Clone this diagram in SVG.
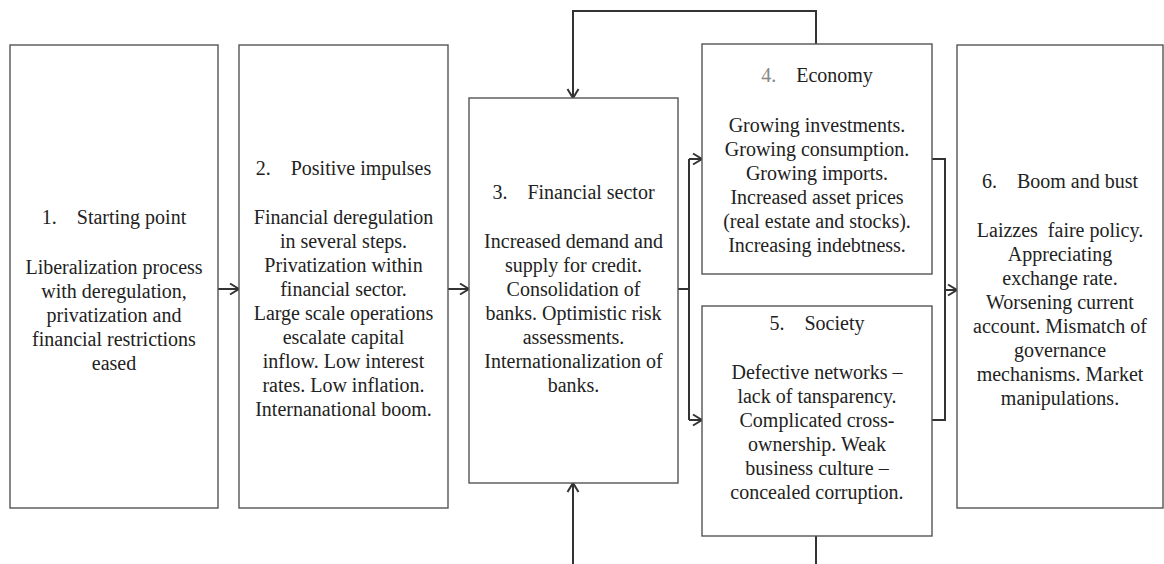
<svg xmlns="http://www.w3.org/2000/svg" width="1164" height="564" viewBox="0 0 1164 564">
<style>
.box{fill:#fff;stroke:#555;stroke-width:1.4}
.t{font-family:'Liberation Serif',Tinos,'Times New Roman',Times,'DejaVu Serif',serif;font-size:20px;fill:#222;text-anchor:middle}
.num4{fill:#888}
.c{fill:none;stroke:#333;stroke-width:2}
</style>
<defs>
<marker id="ah" markerUnits="userSpaceOnUse" markerWidth="14" markerHeight="14" viewBox="0 0 14 14" refX="12" refY="7" orient="auto">
<path d="M3,1.5 L12,7 L3,12.5" fill="none" stroke="#333" stroke-width="2"/>
</marker>
</defs>
<rect width="1164" height="564" fill="#fff"/>
<g id="connectors">
<line class="c" x1="218" y1="289" x2="239" y2="289" marker-end="url(#ah)"/>
<line class="c" x1="448" y1="289" x2="469" y2="289" marker-end="url(#ah)"/>
<polyline class="c" points="678,289 689,289"/>
<polyline class="c" points="689,159 689,420"/>
<line class="c" x1="689" y1="159" x2="702" y2="159" marker-end="url(#ah)"/>
<line class="c" x1="689" y1="420" x2="702" y2="420" marker-end="url(#ah)"/>
<polyline class="c" points="932,159 945,159 945,420 932,420"/>
<line class="c" x1="945" y1="290" x2="957" y2="290" marker-end="url(#ah)"/>
<polyline class="c" points="816,44 816,11 573,11 573,98" marker-end="url(#ah)"/>
<line class="c" x1="816" y1="536" x2="816" y2="566"/>
<line class="c" x1="573" y1="566" x2="573" y2="483" marker-end="url(#ah)"/>
</g>
<g id="node1">
<rect class="box" x="10" y="45" width="208" height="463"/>
<text class="t" x="114" y="224">1.<tspan dx="20">Starting point</tspan></text>
<text class="t" x="114" y="274">Liberalization process</text>
<text class="t" x="114" y="298">with deregulation,</text>
<text class="t" x="114" y="322">privatization and</text>
<text class="t" x="114" y="346">financial restrictions</text>
<text class="t" x="114" y="370">eased</text>
</g>
<g id="node2">
<rect class="box" x="239" y="45" width="209" height="463"/>
<text class="t" x="343.5" y="175">2.<tspan dx="20">Positive impulses</tspan></text>
<text class="t" x="343.5" y="224">Financial deregulation</text>
<text class="t" x="343.5" y="248">in several steps.</text>
<text class="t" x="343.5" y="272">Privatization within</text>
<text class="t" x="343.5" y="296">financial sector.</text>
<text class="t" x="343.5" y="320">Large scale operations</text>
<text class="t" x="343.5" y="344">escalate capital</text>
<text class="t" x="343.5" y="368">inflow. Low interest</text>
<text class="t" x="343.5" y="392">rates. Low inflation.</text>
<text class="t" x="343.5" y="416">Internanational boom.</text>
</g>
<g id="node3">
<rect class="box" x="469" y="98" width="209" height="385"/>
<text class="t" x="573.5" y="199">3.<tspan dx="20">Financial sector</tspan></text>
<text class="t" x="573.5" y="248">Increased demand and</text>
<text class="t" x="573.5" y="272">supply for credit.</text>
<text class="t" x="573.5" y="296">Consolidation of</text>
<text class="t" x="573.5" y="320">banks. Optimistic risk</text>
<text class="t" x="573.5" y="344">assessments.</text>
<text class="t" x="573.5" y="368">Internationalization of</text>
<text class="t" x="573.5" y="392">banks.</text>
</g>
<g id="node4">
<rect class="box" x="702" y="44" width="230" height="230"/>
<text class="t" x="817" y="82"><tspan class="num4">4.</tspan><tspan dx="20">Economy</tspan></text>
<text class="t" x="817" y="132">Growing investments.</text>
<text class="t" x="817" y="156">Growing consumption.</text>
<text class="t" x="817" y="180">Growing imports.</text>
<text class="t" x="817" y="204">Increased asset prices</text>
<text class="t" x="817" y="228">(real estate and stocks).</text>
<text class="t" x="817" y="252">Increasing indebtness.</text>
</g>
<g id="node5">
<rect class="box" x="702" y="306" width="230" height="230"/>
<text class="t" x="817" y="330">5.<tspan dx="20">Society</tspan></text>
<text class="t" x="817" y="379">Defective networks –</text>
<text class="t" x="817" y="403">lack of tansparency.</text>
<text class="t" x="817" y="427">Complicated cross-</text>
<text class="t" x="817" y="451">ownership. Weak</text>
<text class="t" x="817" y="475">business culture –</text>
<text class="t" x="817" y="499">concealed corruption.</text>
</g>
<g id="node6">
<rect class="box" x="957" y="45" width="206" height="463"/>
<text class="t" x="1060" y="188">6.<tspan dx="20">Boom and bust</tspan></text>
<text class="t" x="1060" y="237" xml:space="preserve">Laizzes  faire policy.</text>
<text class="t" x="1060" y="261">Appreciating</text>
<text class="t" x="1060" y="285">exchange rate.</text>
<text class="t" x="1060" y="309">Worsening current</text>
<text class="t" x="1060" y="333">account. Mismatch of</text>
<text class="t" x="1060" y="357">governance</text>
<text class="t" x="1060" y="381">mechanisms. Market</text>
<text class="t" x="1060" y="405">manipulations.</text>
</g>
</svg>
